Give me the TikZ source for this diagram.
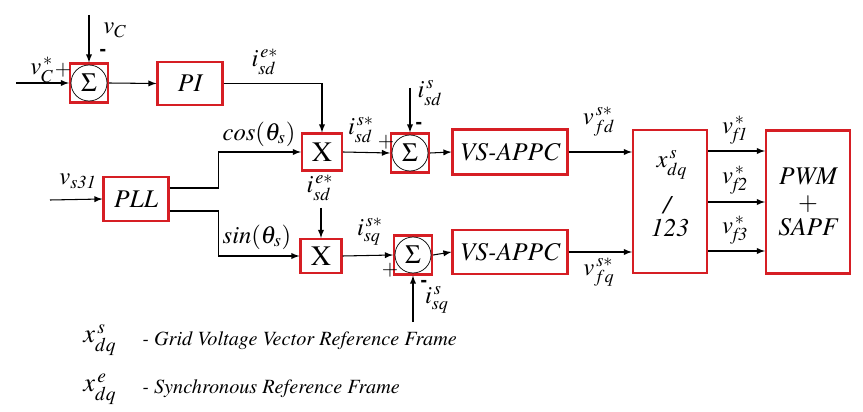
\documentclass[tikz,border=0pt]{standalone}
\usepackage{amsmath}
\usepackage{mathptmx}
\usepackage{tikz}
\usetikzlibrary{arrows,shapes,calc}

\definecolor{boxred}{RGB}{214,30,36}
\newcommand{\tms}{\fontencoding{OT1}\fontfamily{ptm}\selectfont}

\tikzset{
	blk/.style={draw=boxred, line width=1.2pt, fill=white, inner sep=0pt, font=\tms\fontsize{14.5}{14.5}\selectfont\itshape},
	sumbox/.style={draw=boxred, line width=1.2pt, minimum width=0.76cm, minimum height=0.78cm, inner sep=0pt},
	sumcirc/.style={draw, circle, minimum size=0.72cm, inner sep=0pt, font=\fontsize{15}{17}\selectfont},
	lbl/.style={inner sep=0pt, font=\tms\fontsize{14}{16}\selectfont},
	sgn/.style={inner sep=0pt, font=\tms\fontsize{12}{13}\selectfont},
	sig/.style={-latex, line width=0.6pt}
}

\begin{document}
\begin{tikzpicture}[x=0.02cm, y=-0.02cm]
	
	\useasboundingbox (0,0) rectangle (863,412);
	
	% blocks
	\node[sumbox] (s1) at (89,83) {};
	\node[sumcirc] (c1) at (s1) {$\Sigma$};
	\node[blk, minimum width=1.3cm, minimum height=0.86cm] (pi) at (190,83.5) {PI};
	\node[blk, minimum width=1.3cm, minimum height=0.88cm] (pll) at (136,199) {PLL};
	\node[blk, minimum width=0.8cm, minimum height=0.74cm, font=\tms\fontsize{16}{17}\selectfont] (x1) at (322,152) {X};
	\node[blk, minimum width=0.82cm, minimum height=0.68cm, font=\tms\fontsize{16}{17}\selectfont] (x2) at (321,256) {X};
	\node[sumbox] (s2) at (410,153) {};
	\node[sumcirc] (c2) at (s2) {$\Sigma$};
	\node[sumbox] (s3) at (413,255) {};
	\node[sumcirc] (c3) at (s3) {$\Sigma$};
	\node[blk, minimum width=2.3cm, minimum height=0.9cm] (vs1) at (510,152) {VS-APPC};
	\node[blk, minimum width=2.3cm, minimum height=0.88cm] (vs2) at (510,252) {VS-APPC};
	\node[blk, minimum width=1.48cm, minimum height=2.86cm] (tr) at (670,201.5) {};
	\node[blk, minimum width=1.68cm, minimum height=2.86cm, align=center] (pwm) at (808,202) {PWM\\$+$\\SAPF};
	
	% text inside the transform block
	\node[lbl] (trA) at (672,165) {$x_{dq}^{\,s}$};
	\node[lbl, font=\tms\fontsize{14.5}{16}\selectfont\itshape] (trB) at (667,205) {/};
	\node[lbl, font=\tms\fontsize{14.5}{16}\selectfont\itshape] (trC) at (670,228) {123};
	
	% free ends
	\coordinate (vcin) at (16,83);
	\coordinate (vctop) at (89,15);
	\coordinate (vsin) at (50,200);
	\coordinate (pllA) at (pll.east |- 0,188);
	\coordinate (pllB) at (pll.east |- 0,211);
	\coordinate (isdtop) at (410,88);
	\coordinate (isetop) at (321,208);
	\coordinate (isqbot) at (413,322);
	
	% connectors
	\draw[sig] (vcin) -- (s1.west);
	\draw[sig] (vctop) -- (s1.north);
	\draw[sig] (s1.east) -- (pi.west);
	\draw[sig] (pi.east) -| (x1.north);
	\draw[sig] (vsin) -- (pll.west);
	\draw[sig] (pllA) -- ++(49,0) |- (x1.west);
	\draw[sig] (pllB) -- ++(49,0) |- (x2.west);
	\draw[sig] (x1.east) -- (s2.west);
	\draw[sig] (isdtop) -- (s2.north);
	\draw[sig] (s2.east) -- (vs1.west);
	\draw[sig] (vs1.east) -- (tr.west |- vs1.east);
	\draw[sig] (isetop) -- (x2.north);
	\draw[sig] (x2.east) -- (s3.west);
	\draw[sig] (isqbot) -- (s3.south);
	\draw[sig] (s3.east) -- (vs2.west);
	\draw[sig] (vs2.east) -- (tr.west |- vs2.east);
	\draw[sig] (tr.east |- 0,151) -- (pwm.west |- 0,151);
	\draw[sig] (tr.east |- 0,202) -- (pwm.west |- 0,202);
	\draw[sig] (tr.east |- 0,251) -- (pwm.west |- 0,251);
	
	% signal labels
	\node[lbl] (lvcs) at (42,70) {$v_C^{\,*}$};
	\node[sgn] (p1) at (63,70) {$+$};
	\node[lbl] (lvc) at (115,30) {$v_C$};
	\node[sgn] (m1) at (103,52) {\textbf{-}};
	\node[lbl] (lise1) at (265,62) {$i_{sd}^{\,e*}$};
	\node[lbl] (lcos) at (259,134) {$cos(\theta_s)$};
	\node[lbl] (lsin) at (257,237) {$sin(\theta_s)$};
	\node[lbl] (lvs) at (78,181) {$v_{\mathit{s31}}$};
	\node[lbl] (lise2) at (320,188) {$i_{sd}^{\,e*}$};
	\node[lbl] (liss) at (361,130) {$i_{sd}^{\,s*}$};
	\node[sgn] (p2) at (386,142) {$+$};
	\node[lbl] (lisd) at (430,93) {$i_{sd}^{\,s}$};
	\node[sgn] (m2) at (419,125) {\textbf{-}};
	\node[lbl] (lisq) at (370,232) {$i_{sq}^{\,s*}$};
	\node[sgn] (p3) at (390,270) {$+$};
	\node[lbl] (lisqs) at (437,300) {$i_{sq}^{\,s}$};
	\node[sgn] (m3) at (424,283) {\textbf{-}};
	\node[lbl] (lvfd) at (599,122) {$v_{fd}^{\,s*}$};
	\node[lbl] (lvfq) at (599,272) {$v_{fq}^{\,s*}$};
	\node[lbl] (lv1) at (735,130) {$v_{\mathit{f1}}^{\,*}$};
	\node[lbl] (lv2) at (735,180) {$v_{\mathit{f2}}^{\,*}$};
	\node[lbl] (lv3) at (735,230) {$v_{\mathit{f3}}^{\,*}$};
	
	% legend
	\node[lbl, font=\fontsize{15}{17}\selectfont] (legA) at (100,340) {$x_{dq}^{\,s}$};
	\node[lbl, anchor=west, font=\tms\fontsize{11.5}{13}\selectfont\itshape] (legAt) at (142,341) {- Grid Voltage Vector Reference Frame};
	\node[lbl, font=\fontsize{15}{17}\selectfont] (legB) at (100,389) {$x_{dq}^{\,e}$};
	\node[lbl, anchor=west, font=\tms\fontsize{11.5}{13}\selectfont\itshape] (legBt) at (142,389) {- Synchronous Reference Frame};
	
\end{tikzpicture}
\end{document}
